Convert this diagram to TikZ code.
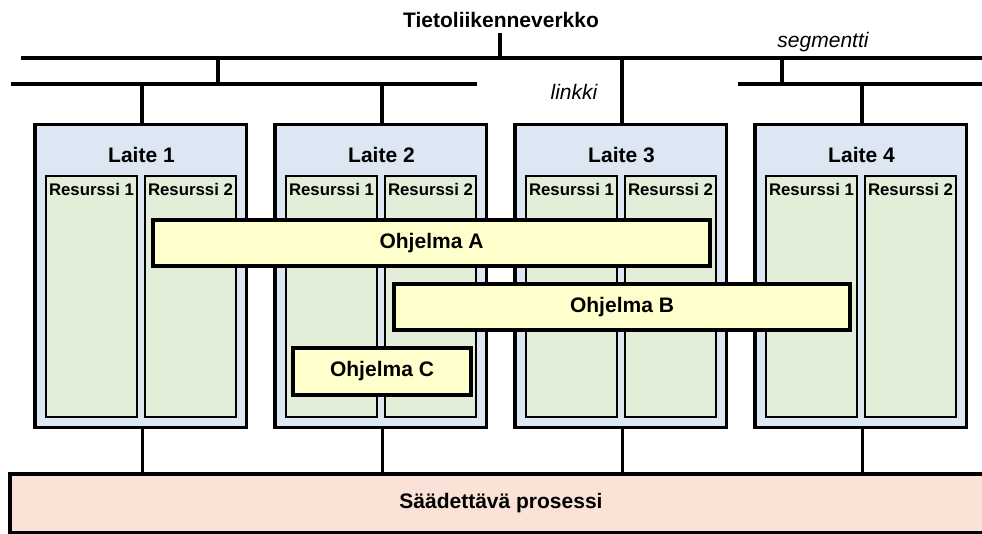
\documentclass[tikz,border=0pt]{standalone}
\usepackage{fontspec}
\setmainfont{Liberation Sans}
\definecolor{devfill}{HTML}{DCE7F3}
\definecolor{resfill}{HTML}{E2EED8}
\definecolor{progfill}{HTML}{FFFFCC}
\definecolor{procfill}{HTML}{FAE3D6}
\tikzset{
  bigtxt/.style={font=\fontsize{21}{24}\selectfont\bfseries},
  smalltxt/.style={font=\fontsize{16.8}{20}\selectfont\bfseries},
  itxt/.style={font=\fontsize{21}{24}\selectfont\itshape},
  bus/.style={line width=4pt},
  wire/.style={line width=3pt},
  devbox/.style={draw, line width=3.5pt, fill=devfill, minimum width=211.5pt, minimum height=302.5pt, inner sep=0pt},
  resbox/.style={draw, line width=2pt, fill=resfill, minimum width=91pt, minimum height=241pt, inner sep=0pt},
  progbox/.style={draw, line width=4pt, fill=progfill, inner sep=0pt, bigtxt},
  procbox/.style={draw, line width=4pt, fill=procfill, inner sep=0pt, minimum width=985pt, minimum height=58.5pt},
}
\begin{document}
\begin{tikzpicture}[x=1pt, y=-1pt]
\useasboundingbox (0,0) rectangle (982,534);
\clip (0,0) rectangle (982,534);

% network title and bus lines
\node[bigtxt] (net) at (501,20) {Tietoliikenneverkko};
\coordinate (netdrop) at (500,33);
\coordinate (bus0) at (21,58);
\coordinate (bus1) at (990,58);
\coordinate (lnk0) at (11,84);
\coordinate (lnk1) at (477,84);
\coordinate (sg0) at (738,84);
\coordinate (sg1) at (990,84);
\draw[bus] (bus0) -- (bus1);
\draw[bus] (lnk0) -- (lnk1);
\draw[bus] (sg0) -- (sg1);
\draw[bus] (netdrop) -- (netdrop |- bus0);
\coordinate (lnktap) at (218,84);
\coordinate (sgtap) at (782,84);
\draw[bus] (lnktap) -- (lnktap |- bus0);
\draw[bus] (sgtap) -- (sgtap |- bus0);
\node[itxt] (seglbl) at (823,42) {segmentti};
\node[itxt] (lnklbl) at (574,92) {linkki};

% devices with their resources
\foreach \i/\cx in {1/140.5, 2/380.5, 3/620.5, 4/860.5} {
  \node[devbox] (d\i) at (\cx,276) {};
  \node[bigtxt] (t\i) at (\cx+1,155) {Laite \i};
  \node[resbox] (r\i a) at (\cx-49,296.5) {};
  \node[resbox] (r\i b) at (\cx+50,296.5) {};
  \node[smalltxt] at (\cx-49,189) {Resurssi 1};
  \node[smalltxt] at (\cx+50,189) {Resurssi 2};
  \coordinate (dt\i) at ([xshift=1.5pt]d\i.north);
  \coordinate (db\i) at ([xshift=1.5pt]d\i.south);
}

% links from the buses down to the devices
\draw[bus] (dt1) -- (dt1 |- lnk0);
\draw[bus] (dt2) -- (dt2 |- lnk0);
\draw[bus] (dt3) -- (dt3 |- bus0);
\draw[bus] (dt4) -- (dt4 |- sg0);

% programs spread over the resources
\node[progbox, minimum width=557pt, minimum height=46pt] (pa) at (431.5,243) {Ohjelma A};
\node[progbox, minimum width=456pt, minimum height=46pt] (pb) at (622,307) {Ohjelma B};
\node[progbox, minimum width=178pt, minimum height=47pt] (pc) at (382,371.5) {Ohjelma C};

% controlled process
\node[procbox] (proc) at (502.5,503.25) {};
\node[bigtxt] (proclbl) at (501,503) {Säädettävä prosessi};
\foreach \i in {1,2,3,4} {
  \draw[wire] (db\i) -- (db\i |- proc.north);
}
\end{tikzpicture}
\end{document}
